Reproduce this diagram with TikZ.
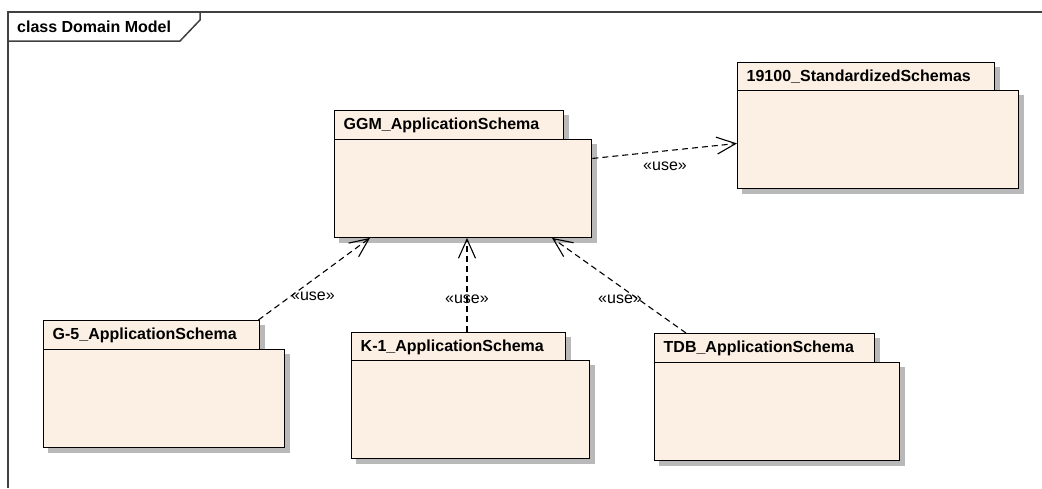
\documentclass[tikz,border=0pt]{standalone}
\usepackage{fontspec}
\setmainfont{Liberation Sans}
\usepackage{tikz}
\usetikzlibrary{arrows.meta,backgrounds,calc}

\definecolor{pkgfill}{RGB}{251,240,227}
\definecolor{pkgshade}{RGB}{185,185,185}
\definecolor{framegray}{RGB}{64,64,64}

\begin{document}
\begin{tikzpicture}[x=1pt, y=-1pt, font=\fontsize{16}{19}\selectfont]
		\tikzset{pkgtab/.style={draw, line width=1.4pt, fill=pkgfill, anchor=north west, inner xsep=9pt, inner ysep=0pt, minimum height=28.5pt, text width=#1, align=left, font=\fontsize{16}{19}\selectfont\bfseries},
			pkgbody/.style={draw, line width=1.4pt, fill=pkgfill, anchor=north west, inner sep=0pt, minimum height=97.5pt, minimum width=#1},
			usedep/.style={dashed, dash pattern=on 6pt off 4pt, line width=1.1pt, -{Straight Barb[length=19pt, width=17pt, line width=1.1pt]}},
			uselbl/.style={inner sep=0pt}}
		\useasboundingbox (0,0) rectangle (1042,488);
		% diagram frame
		\draw[framegray, line width=1.5pt] (8,488) -- (8,12) -- (1042,12);
		\draw[framegray, line width=1.5pt] (8,41) -- (180,41) -- (200,20) -- (200,12);
		\node[anchor=west, inner sep=0pt, font=\fontsize{16}{19}\selectfont\bfseries] (title) at (17,27) {class Domain Model};
		% packages
		\node[pkgtab=211pt] (ggmtab) at (334,110) {GGM\_ApplicationSchema};
		\node[pkgbody=257pt] (ggm) at (334,139) {};
		\node[pkgtab=239pt] (stdtab) at (737,62) {19100\_StandardizedSchemas};
		\node[pkgbody=281pt] (std) at (737,90) {};
		\node[pkgtab=198pt] (g5tab) at (43,320) {G-5\_ApplicationSchema};
		\node[pkgbody=241pt] (g5) at (43,349) {};
		\node[pkgtab=196pt] (k1tab) at (351,332) {K-1\_ApplicationSchema};
		\node[pkgbody=238pt] (k1) at (351,360) {};
		\node[pkgtab=202pt] (tdbtab) at (654,333) {TDB\_ApplicationSchema};
		\node[pkgbody=245pt] (tdb) at (654,362) {};
		% shadows
		\begin{scope}[on background layer]
			\foreach \p in {ggmtab,ggm,stdtab,std,g5tab,g5,k1tab,k1,tdbtab,tdb}
				\fill[pkgshade] ($(\p.north west)+(5,5)$) rectangle ($(\p.south east)+(5,5)$);
		\end{scope}
		% dependencies
		\draw[usedep] ($(ggm.east)+(0,-30)$) -- ($(std.west)+(0,4)$);
		\draw[usedep] ($(g5tab.north east)+(-2,0)$) -- ($(ggm.south west)+(36,0)$);
		\draw[usedep] ($(k1tab.north west)+(116,0)$) -- ($(ggm.south west)+(133,0)$);
		\draw[usedep] ($(tdbtab.north west)+(32,0)$) -- ($(ggm.south west)+(218,0)$);
		\node[uselbl] (use1) at (665,166) {«use»};
		\node[uselbl] (use2) at (313,296) {«use»};
		\node[uselbl] (use3) at (467,299) {«use»};
		\node[uselbl] (use4) at (620,299) {«use»};
	\end{tikzpicture}
\end{document}
